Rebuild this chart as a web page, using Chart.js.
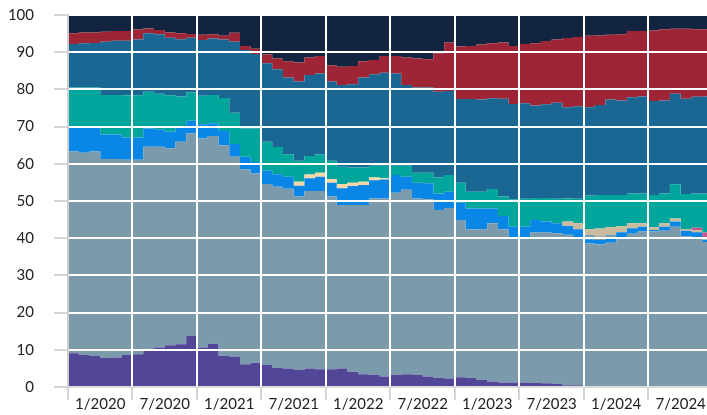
<!DOCTYPE html>
<html>
<head>
<meta charset="utf-8">
<script src="https://cdn.jsdelivr.net/npm/chart.js@4.4.1/dist/chart.umd.min.js"></script>
<style>
  html, body { margin: 0; padding: 0; background: #fff; }
  #wrap { width: 707px; height: 415px; }
</style>
</head>
<body>
<div id="wrap"><canvas id="grafico"></canvas></div>
<script>
// rótulos do eixo x (um a cada 6 meses, jan/2020 .. dez/2024)
const tickLabels = ['1/2020', '7/2020', '1/2021', '7/2021', '1/2022', '7/2022', '1/2023', '7/2023', '1/2024', '7/2024'];

// participação mensal (%) de cada faixa, de baixo para cima
const purple = [9.1, 8.7, 8.3, 7.8, 7.9, 8.6, 8.8, 9.9, 10.6, 11.2,
  11.5, 13.7, 10.6, 11.6, 8.4, 8.2, 6.1, 6.5, 5.9, 5.1,
  5.0, 4.6, 5.0, 4.8, 4.8, 5.0, 4.1, 3.4, 3.3, 2.8,
  3.3, 3.4, 3.2, 2.8, 2.5, 2.3, 2.6, 2.5, 1.9, 1.5,
  1.2, 1.2, 1.2, 1.1, 1.0, 0.9, 0.5, 0.5, 0.3, 0.3,
  0.2, 0.2, 0.2, 0.1, 0.1, 0.1, 0.1, 0.1, 0.1, 0.1];
const slate = [54.2, 54.3, 55.0, 53.5, 53.4, 52.5, 52.3, 54.7, 54.0, 53.0,
  54.4, 54.5, 56.2, 55.9, 56.6, 53.7, 52.4, 50.9, 48.7, 48.7,
  48.3, 46.6, 47.7, 47.9, 46.4, 43.9, 44.8, 45.5, 47.4, 47.9,
  48.9, 49.6, 47.5, 47.7, 45.1, 45.8, 42.3, 39.9, 40.5, 42.5,
  41.2, 39.0, 39.0, 40.4, 40.5, 40.4, 40.4, 39.7, 38.3, 38.0,
  38.6, 39.6, 41.0, 41.7, 41.7, 41.9, 43.0, 40.4, 40.1, 38.9];
const blue = [6.4, 6.7, 6.4, 6.6, 6.6, 6.0, 6.0, 4.9, 4.7, 4.4,
  3.8, 3.4, 3.8, 3.4, 3.8, 3.4, 3.4, 3.1, 3.5, 3.4,
  3.2, 2.9, 3.4, 3.8, 3.7, 4.5, 5.1, 5.4, 4.9, 5.1,
  4.8, 3.5, 4.2, 4.3, 4.4, 4.4, 4.6, 5.6, 5.6, 4.0,
  3.6, 2.9, 2.9, 3.4, 3.0, 2.7, 2.4, 2.2, 1.1, 1.2,
  1.2, 1.8, 1.5, 1.3, 0.4, 1.1, 1.4, 1.5, 1.4, 0.6];
const slate2 = [0, 0, 0, 0, 0, 0, 0, 0, 0, 0,
  0, 0, 0, 0, 0, 0, 0, 0, 0, 0,
  0, 0, 0, 0, 0, 0, 0, 0, 0, 0,
  0, 0, 0, 0, 0, 0, 0, 0, 0, 0,
  0, 0, 0, 0, 0, 0, 0, 0, 1.2, 1.0,
  1.0, 0, 0, 0, 0, 0, 0, 0, 0, 0];
const peach = [0, 0, 0, 0, 0, 0, 0, 0, 0, 0,
  0, 0, 0, 0, 0, 0, 0, 0, 0, 0,
  0, 1.1, 1.0, 1.1, 1.0, 1.1, 0.9, 0.9, 0.7, 0.3,
  0, 0, 0, 0, 0, 0, 0, 0, 0, 0,
  0, 0, 0, 0, 0, 0, 0, 0, 0, 0,
  0, 0, 0, 0, 0, 0, 0, 0, 0, 0];
const tan = [0, 0, 0, 0, 0, 0, 0, 0, 0, 0,
  0, 0, 0, 0, 0, 0, 0, 0, 0, 0,
  0, 0, 0, 0, 0, 0, 0, 0, 0, 0,
  0, 0, 0, 0, 0, 0, 0, 0, 0, 0,
  0, 0, 0, 0, 0, 0, 1.2, 1.6, 1.5, 2.1,
  2.0, 1.6, 1.3, 0.9, 0.8, 0.9, 0.8, 0.5, 0.6, 0.6];
const pink = [0, 0, 0, 0, 0, 0, 0, 0, 0, 0,
  0, 0, 0, 0, 0, 0, 0, 0, 0, 0,
  0, 0, 0, 0, 0, 0, 0, 0, 0, 0,
  0, 0, 0, 0, 0, 0, 0, 0, 0, 0,
  0, 0, 0, 0, 0, 0, 0, 0, 0, 0,
  0, 0, 0, 0, 0, 0, 0, 0, 0.6, 1.3];
const teal = [10.8, 10.8, 10.8, 10.6, 10.6, 11.3, 11.3, 9.9, 9.5, 9.8,
  8.4, 7.6, 7.7, 7.6, 8.9, 8.4, 7.6, 9.0, 7.8, 7.3,
  6.1, 5.6, 5.0, 4.9, 4.9, 4.7, 4.1, 3.8, 3.2, 3.4,
  2.5, 3.0, 2.7, 2.8, 4.3, 4.5, 5.4, 4.5, 4.5, 5.2,
  5.2, 7.4, 7.5, 5.9, 6.3, 6.6, 6.2, 6.6, 9.1, 9.0,
  8.6, 8.4, 8.0, 8.0, 8.6, 8.0, 9.2, 9.4, 9.2, 10.5];
const darkBlue = [11.7, 11.9, 12.0, 14.3, 14.6, 14.7, 15.0, 15.7, 16.0, 15.5,
  15.4, 14.7, 15.0, 15.2, 15.7, 19.1, 21.1, 20.0, 21.1, 20.9,
  20.6, 21.3, 21.8, 21.8, 21.3, 22.0, 22.4, 24.2, 24.6, 25.0,
  24.8, 21.7, 22.9, 22.9, 23.1, 22.6, 22.5, 24.9, 24.8, 24.4,
  26.3, 25.6, 25.7, 24.9, 25.2, 25.8, 24.5, 24.9, 23.7, 24.2,
  25.7, 25.4, 25.9, 26.1, 25.3, 25.0, 24.3, 25.6, 26.0, 26.1];
const red = [2.9, 2.9, 2.8, 2.7, 2.6, 2.6, 2.7, 1.3, 1.2, 1.4,
  1.6, 1.0, 1.4, 1.1, 1.0, 2.4, 1.1, 1.4, 2.4, 2.9,
  4.4, 5.1, 4.7, 4.7, 4.4, 4.9, 4.9, 4.4, 3.8, 4.5,
  4.7, 7.4, 7.8, 7.6, 10.3, 13.0, 14.1, 14.3, 14.8, 14.8,
  15.1, 15.6, 15.9, 16.7, 17.0, 17.0, 18.6, 18.6, 19.2, 18.7,
  17.4, 17.8, 17.8, 17.6, 18.9, 19.2, 17.5, 18.8, 18.2, 18.1];
const navy = [4.9, 4.7, 4.7, 4.5, 4.3, 4.3, 3.9, 3.6, 4.0, 4.7,
  4.9, 5.1, 5.3, 5.2, 5.6, 4.8, 8.3, 9.1, 10.6, 11.7,
  12.4, 12.8, 11.4, 11.0, 13.5, 13.9, 13.7, 12.4, 12.1, 11.0,
  11.0, 11.4, 11.7, 11.9, 10.3, 7.4, 8.5, 8.3, 7.9, 7.6,
  7.4, 8.3, 7.8, 7.6, 7.0, 6.6, 6.2, 5.9, 5.6, 5.5,
  5.3, 5.2, 4.3, 4.3, 4.2, 3.8, 3.7, 3.7, 3.8, 3.8];

// cada mês vira um degrau; o último ponto repete o valor final
function pontos(arr) {
  const p = arr.map((v, i) => ({ x: i, y: v }));
  p.push({ x: arr.length, y: arr[arr.length - 1] });
  return p;
}

const camadas = [
  [purple, '#514796'],
  [slate, '#7b9aac'],
  [blue, '#0a87e6'],
  [slate2, '#7b9aac'],
  [peach, '#fdd8a6'],
  [tan, '#cbbb9e'],
  [pink, '#c8558b'],
  [teal, '#00a59c'],
  [darkBlue, '#1b6793'],
  [red, '#9d2535'],
  [navy, '#12243f']
];

const datasets = camadas.map((c, i) => ({
  data: pontos(c[0]),
  backgroundColor: c[1],
  borderWidth: 0,
  pointRadius: 0,
  stepped: true,
  fill: i === 0 ? 'origin' : '-1'
}));

const semCor = 'rgba(0,0,0,0)';
Chart.defaults.font.family = 'Lato, "Open Sans", sans-serif';
Chart.defaults.font.size = 15;
Chart.defaults.color = '#222';

new Chart(document.getElementById('grafico'), {
  type: 'line',
  data: { datasets: datasets },
  options: {
    responsive: true,
    maintainAspectRatio: false,
    animation: false,
    layout: { padding: { top: 15, right: 0, bottom: 0, left: 0 } },
    plugins: { legend: { display: false }, tooltip: { enabled: false } },
    scales: {
      x: {
        type: 'linear',
        min: 0,
        max: 59.45,
        afterBuildTicks: s => {
          s.ticks = [];
          for (let v = 0; v < 60; v += 3) s.ticks.push({ value: v });
        },
        afterFit: s => { s.height = 28; },
        ticks: {
          autoSkip: false,
          maxRotation: 0,
          padding: -5,
          callback: v => (v % 6 === 3 ? tickLabels[(v - 3) / 6] : '')
        },
        grid: {
          z: 1,
          lineWidth: 2,
          tickLength: 13,
          color: ctx => (ctx.tick && ctx.tick.value % 6 === 0 ? '#ffffff' : semCor),
          tickColor: ctx => (ctx.tick && ctx.tick.value % 6 === 0 ? '#d6d6d6' : semCor)
        },
        border: { z: 2, color: '#dcdcdc', width: 2 }
      },
      y: {
        stacked: true,
        min: 0,
        max: 100,
        afterFit: s => {
          s.width = 68;
          s.paddingTop = 0;
          s.paddingBottom = 0;
        },
        ticks: { stepSize: 10, padding: 20 },
        grid: { z: 1, lineWidth: 2, tickLength: 14, color: '#ffffff', tickColor: '#d6d6d6' },
        border: { z: 2, color: '#cfcfcf', width: 2 }
      }
    }
  }
});
</script>
</body>
</html>
